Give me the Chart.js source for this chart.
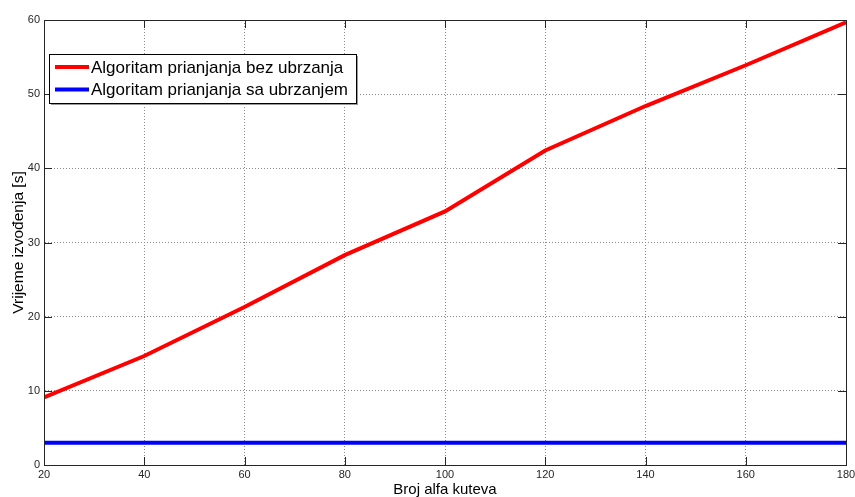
<!DOCTYPE html>
<html>
<head>
<meta charset="utf-8">
<script src="https://cdn.jsdelivr.net/npm/chart.js@4.4.1/dist/chart.umd.min.js"></script>
<style>
  html, body { margin: 0; padding: 0; background: #ffffff; }
  #wrap { width: 855px; height: 497px; }
</style>
</head>
<body>
<div id="wrap"><canvas id="chart" width="855" height="497"></canvas></div>
<script>
// Measured run times vs. number of alpha angles
const angleCounts = [20, 40, 60, 80, 100, 120, 140, 160, 180];
const timeNoSpeedup = [9.1, 14.7, 21.3, 28.3, 34.2, 42.4, 48.4, 53.9, 59.7];
const timeSpeedup = [3, 3, 3, 3, 3, 3, 3, 3, 3];
const xTicks = [20, 40, 60, 80, 100, 120, 140, 160, 180];
const yTicks = [0, 10, 20, 30, 40, 50, 60];

const seriesLabels = ['Algoritam prianjanja bez ubrzanja', 'Algoritam prianjanja sa ubrzanjem'];
const FONT = "'Liberation Sans', Arial, sans-serif";

// Box around the axes plus short inward tick marks (MATLAB style)
const frameAndTicks = {
    id: 'frameAndTicks',
    afterDatasetsDraw(chart) {
        const { ctx, chartArea: a, scales: { x, y } } = chart;
        const len = 8;
        ctx.save();
        ctx.strokeStyle = '#262626';
        ctx.lineWidth = 1;
        ctx.beginPath();
        xTicks.forEach(v => {
            const px = Math.round(x.getPixelForValue(v)) + 0.5;
            ctx.moveTo(px, a.bottom); ctx.lineTo(px, a.bottom - len);
            ctx.moveTo(px, a.top); ctx.lineTo(px, a.top + len);
        });
        yTicks.forEach(v => {
            const py = Math.round(y.getPixelForValue(v)) + 0.5;
            ctx.moveTo(a.left, py); ctx.lineTo(a.left + len, py);
            ctx.moveTo(a.right, py); ctx.lineTo(a.right - len, py);
        });
        ctx.stroke();
        ctx.strokeRect(Math.round(a.left) + 0.5, Math.round(a.top) + 0.5,
            Math.round(a.right - a.left), Math.round(a.bottom - a.top));
        ctx.restore();
    }
};

// Boxed legend in the upper-left corner of the axes
const boxLegend = {
    id: 'boxLegend',
    afterDraw(chart) {
        const { ctx } = chart;
        const bx = 49, by = 54, bw = 307, bh = 49;
        ctx.save();
        ctx.fillStyle = '#9a9a9a';
        ctx.fillRect(bx + 2, by + 2, bw, bh);
        ctx.fillStyle = '#ffffff';
        ctx.fillRect(bx, by, bw, bh);
        ctx.strokeStyle = '#000000';
        ctx.lineWidth = 1;
        ctx.strokeRect(bx + 0.5, by + 0.5, bw, bh);
        ctx.font = '17px ' + FONT;
        ctx.textBaseline = 'middle';
        chart.data.datasets.forEach((ds, i) => {
            const ly = [67, 89.5][i];
            ctx.strokeStyle = ds.borderColor;
            ctx.lineWidth = 4;
            ctx.beginPath();
            ctx.moveTo(55, ly); ctx.lineTo(89, ly);
            ctx.stroke();
            ctx.fillStyle = '#000000';
            ctx.fillText(ds.label, 91, ly + 1);
        });
        ctx.restore();
    }
};

new Chart(document.getElementById('chart'), {
    type: 'line',
    data: {
        datasets: [
            {
                label: seriesLabels[0],
                data: angleCounts.map((v, i) => ({ x: v, y: timeNoSpeedup[i] })),
                borderColor: '#ff0000',
                borderWidth: 4,
                pointRadius: 0,
                tension: 0
            },
            {
                label: seriesLabels[1],
                data: angleCounts.map((v, i) => ({ x: v, y: timeSpeedup[i] })),
                borderColor: '#0000ff',
                borderWidth: 4,
                pointRadius: 0,
                tension: 0
            }
        ]
    },
    options: {
        responsive: false,
        animation: false,
        layout: { padding: { top: 20, right: 9, left: 0, bottom: 0 } },
        plugins: {
            legend: { display: false },
            tooltip: { enabled: false }
        },
        scales: {
            x: {
                type: 'linear',
                min: 20,
                max: 180,
                afterBuildTicks(scale) { scale.ticks = xTicks.map(v => ({ value: v })); },
                afterFit(scale) {
                    scale.height = 32;
                    scale.paddingLeft = 0;
                    scale.paddingRight = 0;
                },
                ticks: {
                    color: '#262626',
                    font: { family: FONT, size: 11 },
                    padding: 3,
                    maxRotation: 0,
                    autoSkip: false
                },
                grid: {
                    color: '#8a8a8a',
                    lineWidth: 1,
                    drawTicks: false
                },
                border: { display: true, color: '#262626', dash: [1, 2] },
                title: {
                    display: true,
                    text: 'Broj alfa kuteva',
                    color: '#000000',
                    font: { family: FONT, size: 15, lineHeight: 1.0 },
                    padding: 0
                }
            },
            y: {
                type: 'linear',
                min: 0,
                max: 60,
                afterBuildTicks(scale) { scale.ticks = yTicks.map(v => ({ value: v })); },
                afterFit(scale) {
                    scale.width = 44;
                    scale.paddingTop = 0;
                    scale.paddingBottom = 0;
                },
                ticks: {
                    color: '#262626',
                    font: { family: FONT, size: 11 },
                    padding: 4
                },
                grid: {
                    color: '#8a8a8a',
                    lineWidth: 1,
                    drawTicks: false
                },
                border: { display: true, color: '#262626', dash: [1, 2] },
                title: {
                    display: true,
                    text: 'Vrijeme izvođenja [s]',
                    color: '#000000',
                    font: { family: FONT, size: 15.5, lineHeight: 1.2 },
                    padding: { top: 9, bottom: 0 }
                }
            }
        }
    },
    plugins: [frameAndTicks, boxLegend]
});
</script>
</body>
</html>
